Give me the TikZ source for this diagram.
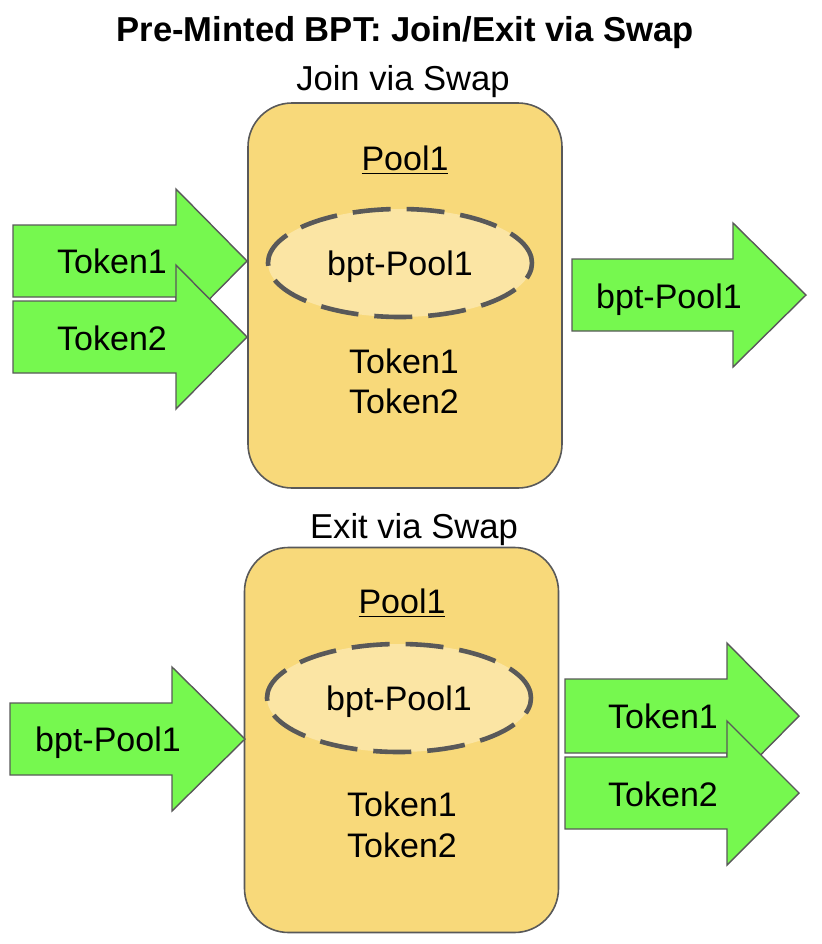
\documentclass[tikz,border=0pt]{standalone}
\usepackage{fontspec}
\setmainfont{Liberation Sans}
\usetikzlibrary{shapes}
\definecolor{arrowgreen}{RGB}{118,248,79}
\definecolor{poolcolor}{RGB}{248,217,122}
\definecolor{bptcolor}{RGB}{251,229,164}
\definecolor{edgegray}{RGB}{89,89,89}

\begin{document}
\begin{tikzpicture}[
    x=0.5pt, y=-0.5pt,
    poolbox/.style={rectangle, rounded corners=22pt, fill=poolcolor,
        draw=edgegray, line width=0.8pt, minimum width=157pt, minimum height=192.5pt},
    bptoval/.style={ellipse, fill=bptcolor, draw=edgegray, line width=2.3pt,
        dash pattern=on 19pt off 8pt, minimum width=132pt, minimum height=54pt,
        inner sep=0pt, text depth=0pt, font=\fontsize{17}{20}\selectfont},
    tokenarrow/.style={fill=arrowgreen, draw=edgegray, line width=0.7pt, line join=miter},
    label/.style={inner sep=0pt, anchor=base, font=\fontsize{17}{20}\selectfont},
    heading/.style={inner sep=0pt, anchor=base, font=\fontsize{17.3}{20}\selectfont}
    ]
\useasboundingbox (0,0) rectangle (822,944);

% titles
\node[heading, font=\fontsize{17.3}{20}\selectfont\bfseries] (title) at (405,41) {Pre-Minted BPT: Join/Exit via Swap};
\node[heading] (jointitle) at (403,90) {Join via Swap};
\node[heading] (exittitle) at (414,538) {Exit via Swap};

% join pool
\node[poolbox] (joinpool) at (405,295.5) {};
\node[label] (joinpoolname) at (405,170) {\underline{Pool1}};
\node[bptoval] (joinbpt) at (400,263) {bpt-Pool1};
\node[label] (jointokA) at (404,373) {Token1};
\node[label] (jointokB) at (404,413) {Token2};

% join arrows
\draw[tokenarrow] (13,225) -- ++(163,0) -- ++(0,-36) -- ++(71,72) -- ++(-71,72) -- ++(0,-36) -- ++(-163,0) -- cycle;
\node[label] (joininA) at (112,273) {Token1};
\draw[tokenarrow] (13,301) -- ++(163,0) -- ++(0,-36) -- ++(71,72) -- ++(-71,72) -- ++(0,-36) -- ++(-163,0) -- cycle;
\node[label] (joininB) at (112,350) {Token2};
\draw[tokenarrow] (572,259) -- ++(161,0) -- ++(0,-36) -- ++(73,72) -- ++(-73,72) -- ++(0,-36) -- ++(-161,0) -- cycle;
\node[label] (joinout) at (669,308) {bpt-Pool1};

% exit pool
\node[poolbox] (exitpool) at (401.5,740) {};
\node[label] (exitpoolname) at (402,613) {\underline{Pool1}};
\node[bptoval] (exitbpt) at (399,698) {bpt-Pool1};
\node[label] (exittokA) at (402,816) {Token1};
\node[label] (exittokB) at (402,857) {Token2};

% exit arrows
\draw[tokenarrow] (10,703) -- ++(162,0) -- ++(0,-36) -- ++(73,72) -- ++(-73,72) -- ++(0,-36) -- ++(-162,0) -- cycle;
\node[label] (exitin) at (108,751) {bpt-Pool1};
\draw[tokenarrow] (565,679) -- ++(162,0) -- ++(0,-36) -- ++(72,73) -- ++(-72,73) -- ++(0,-36) -- ++(-162,0) -- cycle;
\node[label] (exitoutA) at (663,728) {Token1};
\draw[tokenarrow] (565,757) -- ++(162,0) -- ++(0,-36) -- ++(72,72) -- ++(-72,72) -- ++(0,-36) -- ++(-162,0) -- cycle;
\node[label] (exitoutB) at (663,806) {Token2};

\end{tikzpicture}
\end{document}
